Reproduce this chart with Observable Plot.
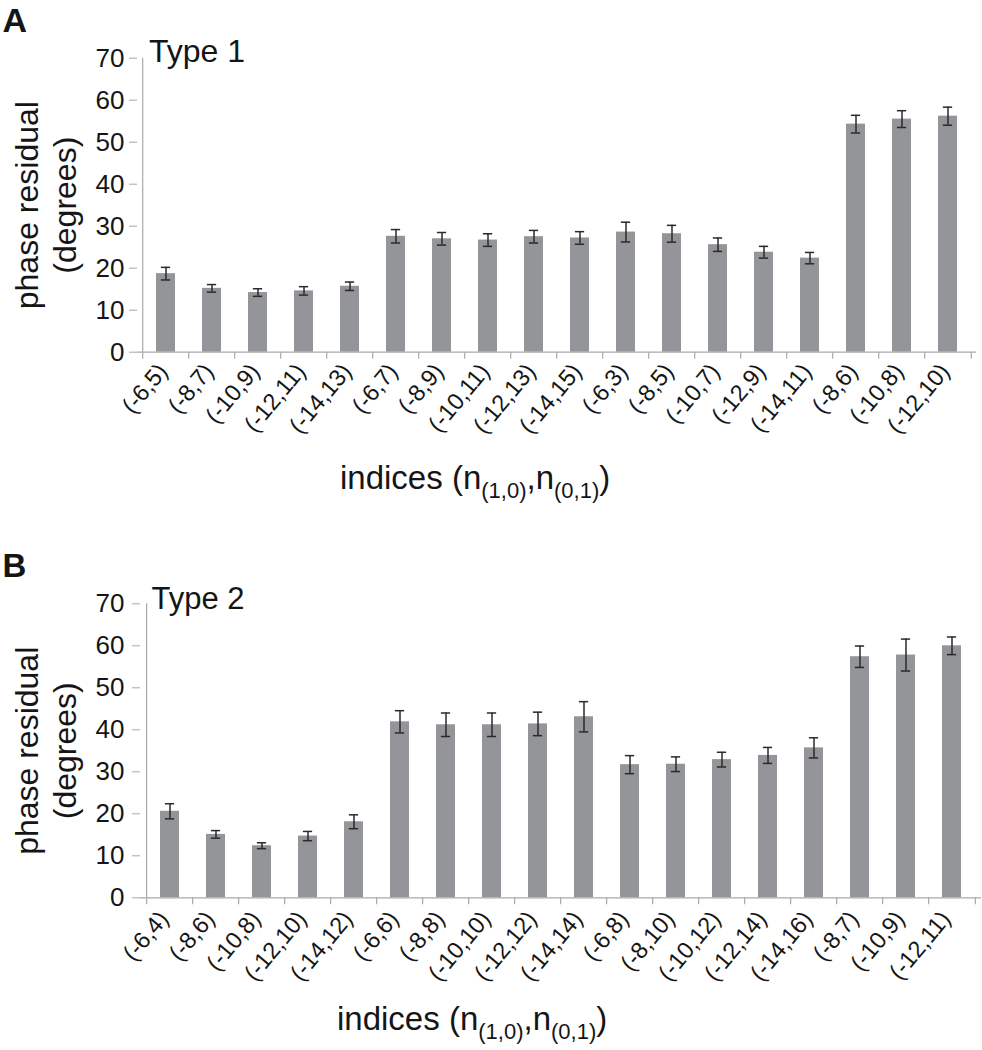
<!DOCTYPE html>
<html><head><meta charset="utf-8">
<script src="https://cdn.jsdelivr.net/npm/d3@7"></script>
<script src="https://cdn.jsdelivr.net/npm/@observablehq/plot@0.6"></script>
<style>
html,body{margin:0;padding:0;background:#fff;}
#chart svg{display:block;}
</style></head><body><div id="chart"></div>
<script>
const catsA = ["(-6,5)","(-8,7)","(-10,9)","(-12,11)","(-14,13)","(-6,7)","(-8,9)","(-10,11)","(-12,13)","(-14,15)","(-6,3)","(-8,5)","(-10,7)","(-12,9)","(-14,11)","(-8,6)","(-10,8)","(-12,10)"];
const valsA = [18.7, 15.2, 14.2, 14.6, 15.7, 27.6, 27.0, 26.7, 27.5, 27.2, 28.6, 28.2, 25.6, 23.8, 22.4, 54.3, 55.5, 56.2];
const errsA = [1.5, 0.9, 0.9, 1.0, 1.0, 1.6, 1.5, 1.5, 1.5, 1.5, 2.35, 2.0, 1.6, 1.4, 1.35, 2.1, 2.0, 2.15];

const catsB = ["(-6,4)","(-8,6)","(-10,8)","(-12,10)","(-14,12)","(-6,6)","(-8,8)","(-10,10)","(-12,12)","(-14,14)","(-6,8)","(-8,10)","(-10,12)","(-12,14)","(-14,16)","(-8,7)","(-10,9)","(-12,11)"];
const valsB = [20.6, 15.1, 12.4, 14.7, 18.1, 41.9, 41.2, 41.2, 41.4, 43.1, 31.7, 31.8, 32.9, 33.9, 35.7, 57.4, 57.8, 60.0];
const errsB = [1.8, 0.9, 0.7, 1.1, 1.65, 2.65, 2.8, 2.8, 2.8, 3.6, 2.15, 1.75, 1.75, 1.9, 2.4, 2.55, 3.8, 2.1];

const yTicks = [0, 10, 20, 30, 40, 50, 60, 70];
const yLabel = "phase residual\n(degrees)";
const xLabelParts = ["indices (n", "(1,0)", ",n", "(0,1)", ")"];

const FONT = "'Liberation Sans', Arial, Helvetica, sans-serif";
const AXIS = "#a9a9a9";
const BAR = "#939598";
const ERR = "#2a2a2a";
const INK = "#151515";

function panel(o) {
  const W = 982, H = 525;
  const step = (W - o.ml - o.mr) / o.cats.length;
  const pin = 0.59;
  const bw = step * (1 - pin);
  const capInset = bw / 2 - 4.7;
  const data = o.cats.map((c, i) => ({cat: c, v: o.vals[i], e: o.errs[i]}));
  const last = o.cats[o.cats.length - 1];
  const svg = Plot.plot({
    width: W, height: H,
    marginTop: o.mt, marginBottom: o.mb, marginLeft: o.ml, marginRight: o.mr,
    style: {fontFamily: FONT, background: "white", overflow: "visible", color: INK},
    x: {domain: o.cats, paddingInner: pin, paddingOuter: pin / 2, axis: null},
    y: {domain: [0, 70], axis: null},
    marks: [
      Plot.barY(data, {x: "cat", y: "v", fill: BAR}),
      Plot.ruleX(data, {x: "cat", y1: d => d.v - d.e, y2: d => d.v + d.e, stroke: ERR, strokeWidth: 1.5}),
      Plot.tickY(data, {x: "cat", y: d => d.v + d.e, stroke: ERR, strokeWidth: 1.5, insetLeft: capInset, insetRight: capInset}),
      Plot.tickY(data, {x: "cat", y: d => d.v - d.e, stroke: ERR, strokeWidth: 1.5, insetLeft: capInset, insetRight: capInset}),
      // axis lines
      Plot.ruleY([0], {stroke: AXIS, strokeWidth: 1.2}),
      Plot.ruleX([o.cats[0]], {x: d => d, y1: () => 0, y2: () => 70, dx: -step / 2, stroke: AXIS, strokeWidth: 1.2}),
      // category boundary ticks
      Plot.ruleX(o.cats, {x: d => d, y1: () => 0, y2: () => 0, insetBottom: -7, dx: -step / 2, stroke: AXIS, strokeWidth: 1.2}),
      Plot.ruleX([last], {x: d => d, y1: () => 0, y2: () => 0, insetBottom: -7, dx: step / 2, stroke: AXIS, strokeWidth: 1.2}),
      // y axis ticks
      Plot.axisY({ticks: yTicks, tickSize: 8, tickFormat: () => "", stroke: AXIS, label: null}),
      // y tick labels
      Plot.text(yTicks, {y: d => d, text: d => String(d), frameAnchor: "left", dx: -(8 + o.yPad), textAnchor: "end", lineAnchor: "middle", fontSize: 26, fill: INK}),
      // x tick labels
      Plot.text(o.cats, {x: d => d, text: d => d, frameAnchor: "bottom", rotate: -50, textAnchor: "end", lineAnchor: "top", fontSize: 23.5, dx: o.xdx, dy: o.xdy, fill: INK}),
      // y label
      Plot.text([yLabel], {text: d => d, frameAnchor: "left", rotate: -90, fontSize: 32, lineHeight: 1.19, textAnchor: "middle", lineAnchor: "middle", dx: o.ylx - o.ml, fill: INK}),
      // panel letter
      Plot.text([o.letter], {text: d => d, frameAnchor: "top-left", dx: 2 - o.ml, dy: o.letterBase - o.mt, textAnchor: "start", lineAnchor: "bottom", fontSize: o.letterSize, fontWeight: "bold", fill: INK}),
      // type title
      Plot.text([o.type], {text: d => d, frameAnchor: "top-left", dx: o.typeX - o.ml, dy: o.typeBase - o.mt, textAnchor: "start", lineAnchor: "bottom", fontSize: o.typeSize, fill: INK})
    ]
  });
  // x-axis title with subscripts
  const t = d3.select(svg).append("text")
    .attr("x", o.xtX).attr("y", o.xtBase)
    .attr("text-anchor", "start")
    .attr("font-family", FONT).attr("font-size", 33).attr("fill", INK);
  t.append("tspan").text(xLabelParts[0]);
  t.append("tspan").attr("font-size", 22).attr("dy", 9).text(xLabelParts[1]);
  t.append("tspan").attr("dy", -9).text(xLabelParts[2]);
  t.append("tspan").attr("font-size", 22).attr("dy", 9).text(xLabelParts[3]);
  t.append("tspan").attr("dy", -9).text(xLabelParts[4]);
  return svg;
}

const chart = document.getElementById("chart");
chart.appendChild(panel({
  cats: catsA, vals: valsA, errs: errsA,
  ml: 137, mr: 6, mt: 57.7, mb: 525 - 351.7,
  yPad: 5, xdx: -10, xdy: 9, ylx: 44,
  letter: "A", letterBase: 31, letterSize: 34,
  type: "Type 1", typeX: 148.5, typeBase: 61, typeSize: 32,
  xtX: 340, xtBase: 489
}));
chart.appendChild(panel({
  cats: catsB, vals: valsB, errs: errsB,
  ml: 140, mr: 1, mt: 603.3 - 525, mb: 1050 - 897.3,
  yPad: 8, xdx: -13, xdy: 11, ylx: 44,
  letter: "B", letterBase: 51, letterSize: 33,
  type: "Type 2", typeX: 151, typeBase: 83, typeSize: 31,
  xtX: 337, xtBase: 505
}));
</script></body></html>
